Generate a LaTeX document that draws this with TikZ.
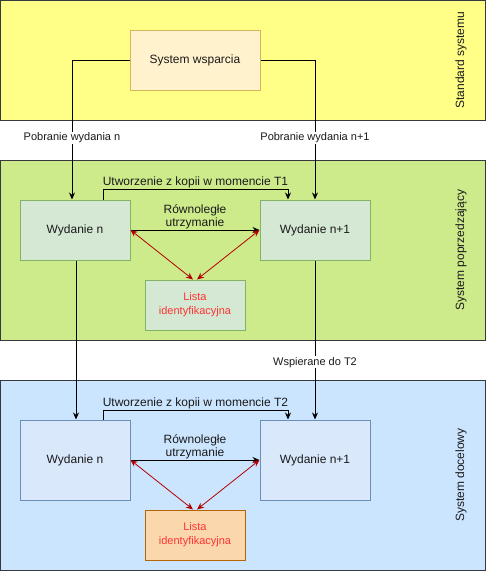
\documentclass[tikz,border=0pt]{standalone}
\usepackage{fontspec}
\setmainfont{Liberation Sans}
\usetikzlibrary{arrows.meta,positioning,calc}
\definecolor{bandline}{HTML}{36393D}
\definecolor{yelband}{HTML}{FFFF88}
\definecolor{grnband}{HTML}{CDEB8B}
\definecolor{bluband}{HTML}{CCE5FF}
\definecolor{supfill}{HTML}{FFF2CC}
\definecolor{supline}{HTML}{D6B656}
\definecolor{grnfill}{HTML}{D5E8D4}
\definecolor{grnline}{HTML}{82B366}
\definecolor{blufill}{HTML}{DAE8FC}
\definecolor{bluline}{HTML}{6C8EBF}
\definecolor{orgfill}{HTML}{FAD7AC}
\definecolor{orgline}{HTML}{B46504}
\definecolor{redarr}{HTML}{B20000}
\definecolor{redtxt}{HTML}{FF3333}
\definecolor{txt}{HTML}{1A1A1A}

\begin{document}
\begin{tikzpicture}[
  x=1pt, y=-1pt,
  >={Stealth[length=7pt,width=6pt]},
  band/.style={draw=bandline, line width=1pt, minimum width=485pt, inner sep=0pt},
  bandlabel/.style={rotate=90, font=\fontsize{12}{14}\selectfont, text=txt},
  box/.style={draw, line width=1pt, minimum width=110pt, inner sep=0pt, font=\fontsize{12}{14}\selectfont, text=txt},
  listbox/.style={draw, line width=1pt, minimum width=100pt, minimum height=50pt, inner sep=0pt, align=center, font=\fontsize{11}{16}\selectfont, text=redtxt},
  arrow/.style={->, line width=1pt, color=black},
  redarrow/.style={<->, line width=0.8pt, color=redarr},
  lbl/.style={font=\fontsize{11}{13}\selectfont, text=txt, fill=white, inner sep=1pt},
  toplbl/.style={font=\fontsize{12}{13}\selectfont, text=txt, align=center, inner sep=1pt},
]
\useasboundingbox (0,0) rectangle (486,571);

% pasy
\node[band, fill=yelband, minimum height=120pt] (bandA) at (243,60.5) {};
\node[band, fill=grnband, minimum height=180pt] (bandB) at (243,250.5) {};
\node[band, fill=bluband, minimum height=190pt] (bandC) at (243,475.5) {};
\node[bandlabel] (labA) at (461,60) {Standard systemu};
\node[bandlabel] (labB) at (461,250) {System poprzedzający};
\node[bandlabel] (labC) at (461,475) {System docelowy};

\node[box, fill=supfill, draw=supline, minimum width=130pt, minimum height=60pt] (sup) at (195,60) {System wsparcia};

\node[box, fill=grnfill, draw=grnline, minimum height=60pt] (wn1) at (75,230) {Wydanie n};
\node[box, fill=grnfill, draw=grnline, minimum height=60pt] (wp1) at (315,230) {Wydanie n+1};
\node[listbox, fill=grnfill, draw=grnline] (lst1) at (195,305) {Lista\\[-2pt]identyfikacyjna};

\node[box, fill=blufill, draw=bluline, minimum height=80pt] (wn2) at (75,460) {Wydanie n};
\node[box, fill=blufill, draw=bluline, minimum height=80pt] (wp2) at (315,460) {Wydanie n+1};
\node[listbox, fill=orgfill, draw=orgline] (lst2) at (195,535) {Lista\\[-2pt]identyfikacyjna};

% pobranie
\draw[arrow] (sup.west) -| node[lbl, pos=0.78] {Pobranie wydania n} ([xshift=-3pt]wn1.north);
\draw[arrow] (sup.east) -| node[lbl, pos=0.78] {Pobranie wydania n+1} (wp1.north);

% system poprzedzajacy
\draw[arrow] ([xshift=28pt]wn1.north) -- ++(0,-10) -| node[toplbl, above, pos=0.25] {Utworzenie z kopii w momencie T1} ([xshift=-27pt]wp1.north);
\draw[arrow] (wn1.east) -- node[toplbl, above] {Równoległe\\utrzymanie} (wp1.west);
\draw[redarrow] (wn1.east) -- ([xshift=-2pt]lst1.north);
\draw[redarrow] (wp1.west) -- ([xshift=2pt]lst1.north);

% przejscie
\draw[arrow] ([xshift=1pt]wn1.south) -- ([xshift=1pt]wn2.north);
\draw[arrow] (wp1.south) -- node[lbl, pos=0.64] {Wspierane do T2} (wp2.north);

% system docelowy
\draw[arrow] ([xshift=28pt]wn2.north) -- ++(0,-9) -| node[toplbl, above, pos=0.25] {Utworzenie z kopii w momencie T2} ([xshift=-27pt]wp2.north);
\draw[arrow] (wn2.east) -- node[toplbl, above] {Równoległe\\utrzymanie} (wp2.west);
\draw[redarrow] (wn2.east) -- ([xshift=-2pt]lst2.north);
\draw[redarrow] (wp2.west) -- ([xshift=2pt]lst2.north);
\end{tikzpicture}
\end{document}
